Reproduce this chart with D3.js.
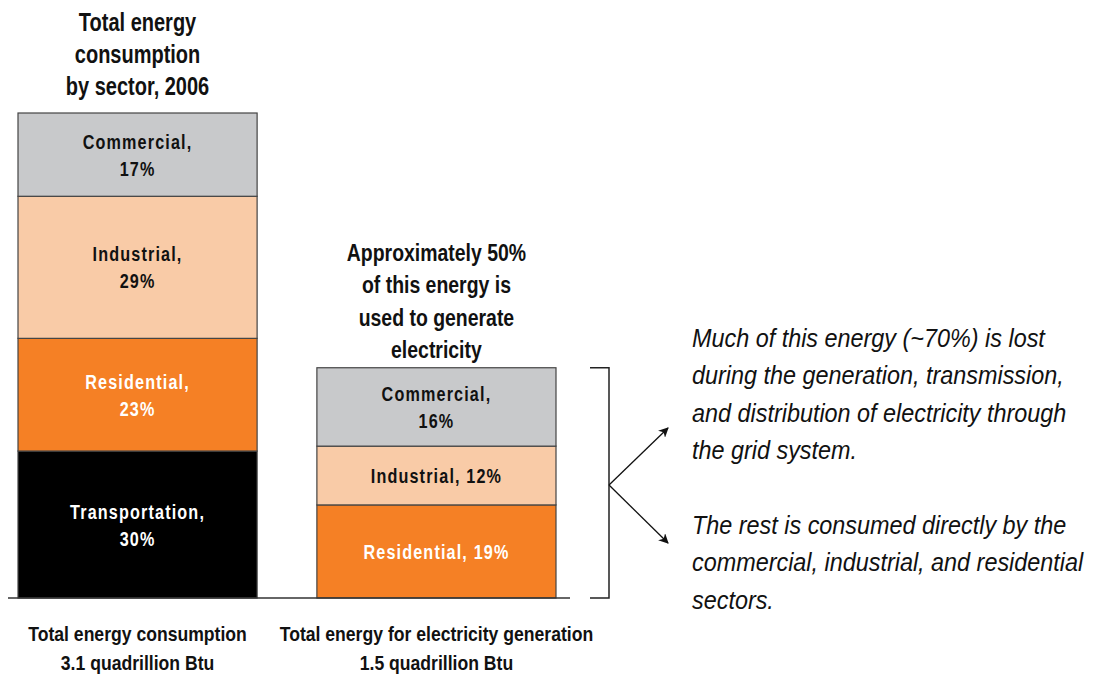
<!DOCTYPE html>
<html>
<head>
<meta charset="utf-8">
<script src="https://cdn.jsdelivr.net/npm/d3@7"></script>
<style>
  body { margin: 0; background: #fff; }
  svg text { font-family: "Liberation Sans", Arial, sans-serif; }
</style>
</head>
<body>
<svg width="1094" height="675"></svg>
<script>
// data
var bars = ['total', 'electricity'];
var totalSectors = ['Transportation', 'Residential', 'Industrial', 'Commercial'];
var totalShares = [30, 23, 29, 17];
var elecSectors = ['Residential', 'Industrial', 'Commercial'];
var elecShares = [19, 12, 16];
var sectorColors = {Commercial: '#c8c9cb', Industrial: '#f9cba7', Residential: '#f58025', Transportation: '#000000'};
var labelColors = {Commercial: '#111', Industrial: '#111', Residential: '#fff', Transportation: '#fff'};
var totalLabels = [['Transportation,', '30%'], ['Residential,', '23%'], ['Industrial,', '29%'], ['Commercial,', '17%']];
var elecLabels = [['Residential, 19%'], ['Industrial, 12%'], ['Commercial,', '16%']];
var bottomLabels = [['Total energy consumption', '3.1 quadrillion Btu'], ['Total energy for electricity generation', '1.5 quadrillion Btu']];
var noteLines = [
  ['Much of this energy (~70%) is lost', 'during the generation, transmission,', 'and distribution of electricity through', 'the grid system.'],
  ['The rest is consumed directly by the', 'commercial, industrial, and residential', 'sectors.']
];

var svg = d3.select('svg');

var x = d3.scaleBand().domain(bars).range([18, 556]).paddingInner(0.2).paddingOuter(0);
var y = d3.scaleLinear().domain([0, 99]).range([598, 113]);

// squeeze text horizontally around its anchor to mimic a condensed face
function squeeze(sel, cx, s) {
  sel.attr('transform', 'translate(' + cx + ',0) scale(' + s + ',1) translate(' + (-cx) + ',0)');
}

function stackUp(names, shares, labels) {
  var acc = 0;
  return names.map(function(n, i) {
    var d = {name: n, y0: acc, y1: acc + shares[i], label: labels[i]};
    acc += shares[i];
    return d;
  });
}

var stacks = {
  total: stackUp(totalSectors, totalShares, totalLabels),
  electricity: stackUp(elecSectors, elecShares, elecLabels)
};

bars.forEach(function(b) {
  var g = svg.append('g');
  var cx = x(b) + x.bandwidth() / 2;
  g.selectAll('rect').data(stacks[b]).enter().append('rect')
    .attr('x', x(b))
    .attr('width', x.bandwidth())
    .attr('y', d => y(d.y1))
    .attr('height', d => y(d.y0) - y(d.y1))
    .attr('fill', d => sectorColors[d.name])
    .attr('stroke', '#444')
    .attr('stroke-width', 1.2);

  g.selectAll('text.seg').data(stacks[b]).enter().append('text')
    .attr('class', 'seg')
    .attr('text-anchor', 'middle')
    .attr('x', cx)
    .attr('y', d => (y(d.y0) + y(d.y1)) / 2 - (d.label.length - 1) * 13.5 + 7.5)
    .attr('fill', d => labelColors[d.name])
    .style('font-size', '21px')
    .style('font-weight', 'bold')
    .style('letter-spacing', '1.5px')
    .call(squeeze, cx, 0.77)
    .each(function(d) {
      var t = d3.select(this);
      d.label.forEach(function(line, i) {
        t.append('tspan').attr('x', cx).attr('dy', i ? 27 : 0).text(line);
      });
    });
});

// baseline
svg.append('line').attr('x1', 8).attr('x2', 570).attr('y1', y(0)).attr('y2', y(0))
  .attr('stroke', '#333').attr('stroke-width', 1.5);

function multiLine(lines, cx, top, size, lh, weight, style, anchor, s) {
  var t = svg.append('text')
    .attr('text-anchor', anchor || 'middle')
    .attr('y', top)
    .style('font-size', size + 'px')
    .style('font-weight', weight)
    .style('font-style', style || 'normal')
    .attr('fill', '#111')
    .call(squeeze, cx, s);
  lines.forEach(function(line, i) {
    t.append('tspan').attr('x', cx).attr('dy', i ? lh : 0).text(line);
  });
  return t;
}

// titles
multiLine(['Total energy', 'consumption', 'by sector, 2006'], x('total') + x.bandwidth() / 2, 31, 25, 32, 'bold', 'normal', 'middle', 0.8);
multiLine(['Approximately 50%', 'of this energy is', 'used to generate', 'electricity'], x('electricity') + x.bandwidth() / 2, 261, 24, 32.5, 'bold', 'normal', 'middle', 0.81);

bottomLabels.forEach(function(l, i) {
  multiLine(l, x(bars[i]) + x.bandwidth() / 2, 641, 20, 29.5, 'bold', 'normal', 'middle', 0.88);
});

// bracket
var topE = y(d3.sum(elecShares));
var bx = 609;
svg.append('path')
  .attr('d', 'M590,' + topE + 'H' + bx + 'V' + y(0) + 'H590')
  .attr('fill', 'none').attr('stroke', '#222').attr('stroke-width', 1.5);

var defs = svg.append('defs');
defs.append('marker').attr('id', 'arr').attr('viewBox', '0 0 10 10')
  .attr('refX', 9).attr('refY', 5).attr('markerWidth', 10).attr('markerHeight', 10)
  .attr('orient', 'auto').attr('markerUnits', 'userSpaceOnUse')
  .append('path').attr('d', 'M0,0L10,5L0,10L3,5Z').attr('fill', '#111');

var midY = 485;
[[668, 428], [668, 543]].forEach(function(p) {
  svg.append('line').attr('x1', bx).attr('y1', midY).attr('x2', p[0]).attr('y2', p[1])
    .attr('stroke', '#111').attr('stroke-width', 1.3).attr('marker-end', 'url(#arr)');
});

// notes
multiLine(noteLines[0], 692, 347, 26, 37.5, 'normal', 'italic', 'start', 0.9);
multiLine(noteLines[1], 692, 534, 26, 37.5, 'normal', 'italic', 'start', 0.9);
</script>
</body>
</html>
